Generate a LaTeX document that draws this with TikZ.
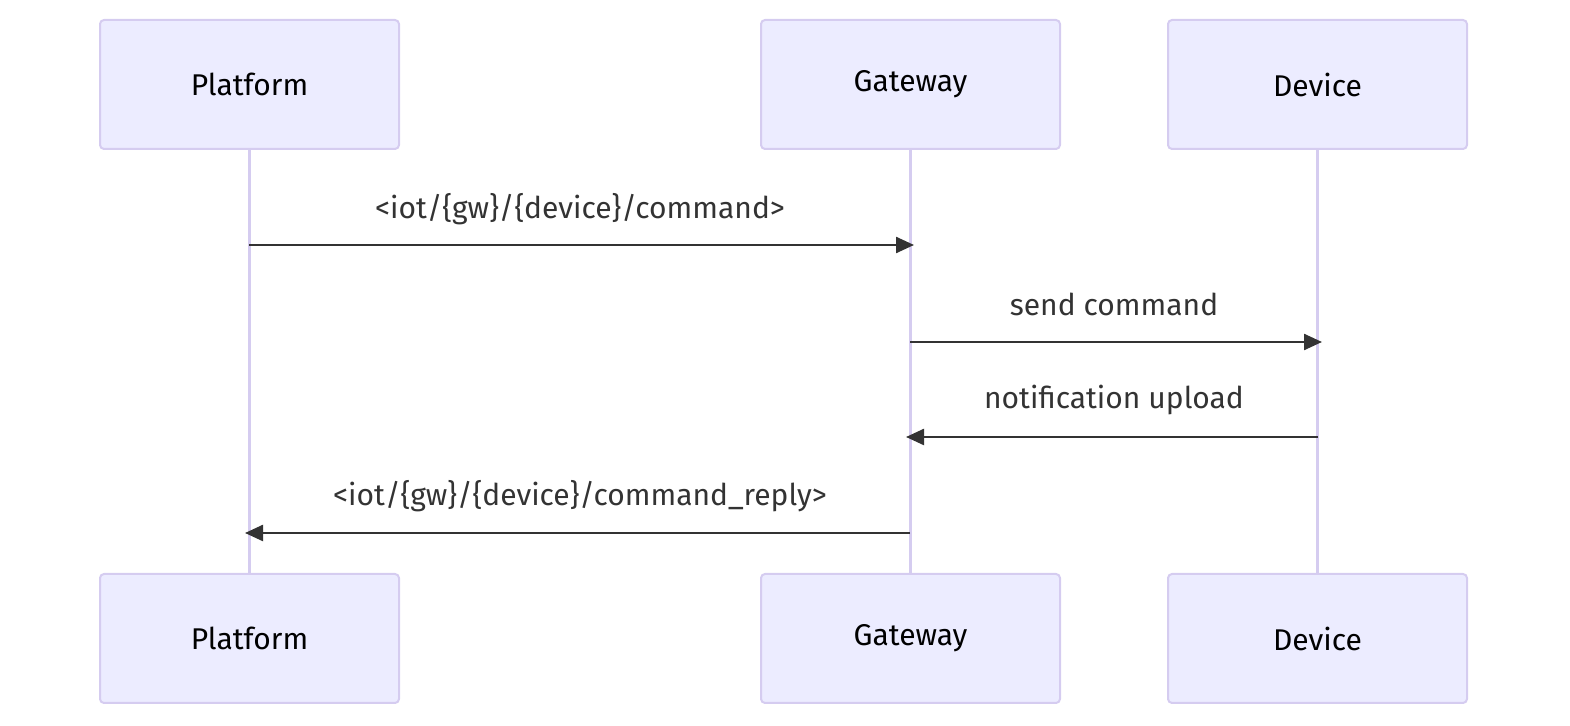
\documentclass[tikz,border=0pt]{standalone}
\usepackage{fontspec}
\setmainfont{Fira Sans}
\usetikzlibrary{arrows.meta,positioning}
\definecolor{actorfill}{HTML}{ECECFF}
\definecolor{actorline}{HTML}{D5CCF0}
\definecolor{msgline}{HTML}{333333}

\tikzset{
  actor/.style={draw=actorline,fill=actorfill,line width=1pt,rounded corners=2pt,
    minimum width=299*0.5pt,minimum height=129*0.5pt,inner sep=0pt,
    font=\fontsize{15}{18}\selectfont,text=black},
  life/.style={draw=actorline,line width=1.5pt},
  msg/.style={draw=msgline,line width=1.2pt,-{Triangle[length=9pt,width=8pt]}},
  lbl/.style={font=\fontsize{15}{18}\selectfont,text=msgline,inner sep=0pt}
}

\begin{document}
\begin{tikzpicture}[x=0.5pt,y=-0.5pt]
    \useasboundingbox (0,0) rectangle (1570,726);
    % actors, top and bottom
    \node[actor] (pt) at (249.5,84.5) {Platform};
    \node[actor] (gt) at (910.5,84.5) {Gateway};
    \node[actor] (dt) at (1317.5,84.5) {Device};
    \node[actor] (pb) at (249.5,638.5) {Platform};
    \node[actor] (gb) at (910.5,638.5) {Gateway};
    \node[actor] (db) at (1317.5,638.5) {Device};
    % lifelines
    \begin{scope}[on background layer/.style={}]
    \draw[life] (pt.south) -- (pb.north);
    \draw[life] (gt.south) -- (gb.north);
    \draw[life] (dt.south) -- (db.north);
    \end{scope}
    % messages
    \coordinate (m1a) at (249,245);  \coordinate (m1b) at (914,245);
    \coordinate (m2a) at (910,342);  \coordinate (m2b) at (1322,342);
    \coordinate (m3a) at (1318,437); \coordinate (m3b) at (906,437);
    \coordinate (m4a) at (910,533);  \coordinate (m4b) at (245,533);
    \draw[msg] (m1a) -- (m1b);
    \draw[msg] (m2a) -- (m2b);
    \draw[msg] (m3a) -- (m3b);
    \draw[msg] (m4a) -- (m4b);
    \node[lbl] (l1) at (580,209) {<iot/\{gw\}/\{device\}/command>};
    \node[lbl] (l2) at (1114,304) {send command};
    \node[lbl] (l3) at (1114,400) {notification upload};
    \node[lbl] (l4) at (580,496) {<iot/\{gw\}/\{device\}/command\_reply>};
\end{tikzpicture}
\end{document}
